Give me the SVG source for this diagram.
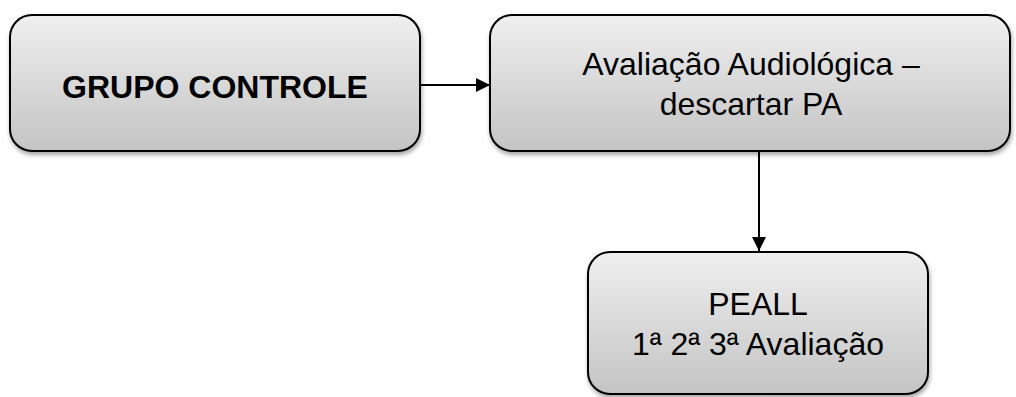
<svg xmlns="http://www.w3.org/2000/svg" width="1016" height="397" viewBox="0 0 1016 397">
<style>
.box{fill:url(#g);stroke:#000;stroke-width:2;filter:url(#sh)}
.t{font-family:"Liberation Sans",Arial,sans-serif;font-size:32px;fill:#000;text-anchor:middle}
.b{font-weight:bold}
.c{stroke:#000;stroke-width:2;fill:none;marker-end:url(#ah)}
</style>
<defs>
<linearGradient id="g" x1="0" y1="0" x2="0" y2="1">
<stop offset="0" stop-color="#efefef"/>
<stop offset="1" stop-color="#c4c4c4"/>
</linearGradient>
<filter id="sh" x="-10%" y="-10%" width="120%" height="130%">
<feDropShadow dx="1" dy="3" stdDeviation="2" flood-color="#000" flood-opacity="0.35"/>
</filter>
<marker id="ah" markerWidth="14" markerHeight="16" refX="14" refY="8" orient="auto" markerUnits="userSpaceOnUse">
<path d="M0,1 L14,8 L0,15 z" fill="#000"/>
</marker>
</defs>
<g id="connectors">
<path class="c" d="M421,85 L490,85"/>
<path class="c" d="M759,152 L759,251"/>
</g>
<g id="node-grupo">
<rect class="box" x="10" y="15" width="410" height="136" rx="22"/>
<text class="t b" x="215" y="98">GRUPO CONTROLE</text>
</g>
<g id="node-avaliacao">
<rect class="box" x="490" y="15" width="520" height="136" rx="22"/>
<text class="t" x="751" y="75">Avaliação Audiológica –</text>
<text class="t" x="751" y="115">descartar PA</text>
</g>
<g id="node-peall">
<rect class="box" x="588" y="252" width="340" height="142" rx="22"/>
<text class="t" x="758" y="315">PEALL</text>
<text class="t" x="758" y="355">1ª 2ª 3ª Avaliação</text>
</g>
</svg>
